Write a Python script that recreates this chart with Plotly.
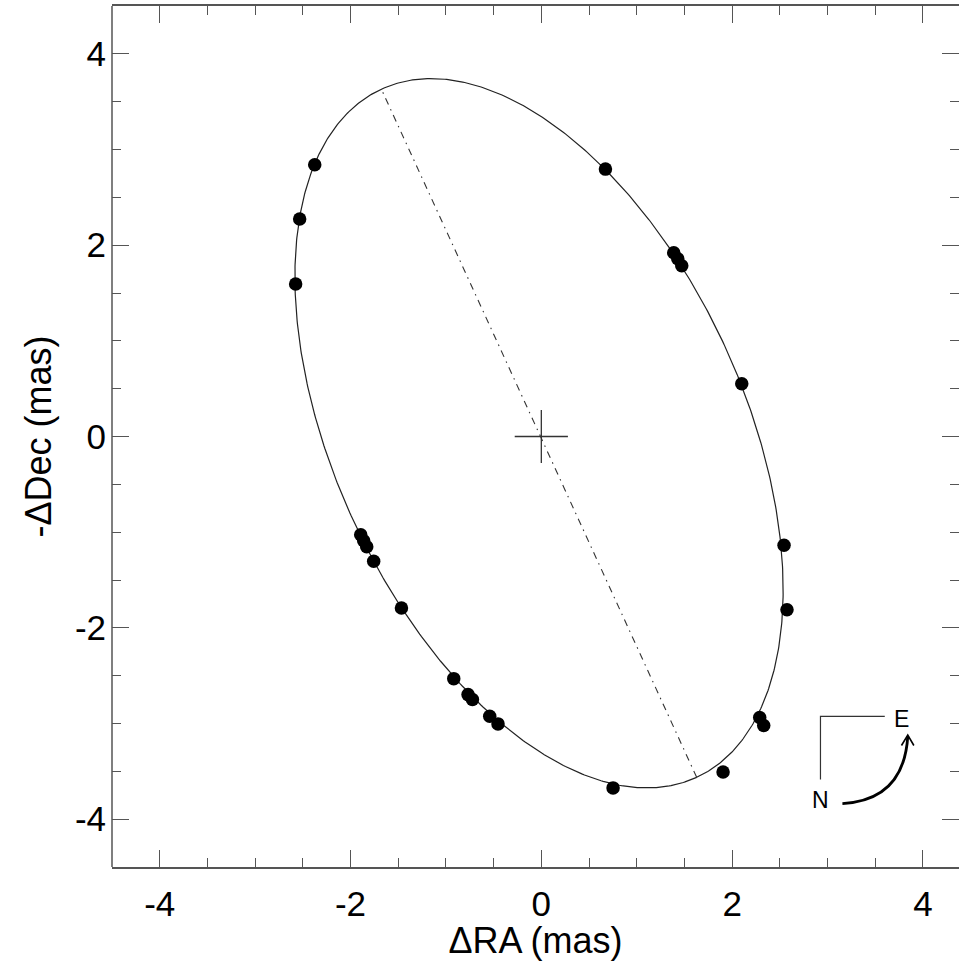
import numpy as np
import plotly.graph_objects as go

# Observed relative positions (mas)
d_ra = [-2.375, -2.533, -2.575, 0.672, 1.388, 1.430, 1.472, 2.101, 2.544, 2.575,
        2.289, 2.331, 1.905, 0.752, -0.454, -0.541, -0.722, -0.768, -0.918, -1.466,
        -1.757, -1.830, -1.862, -1.893]
d_dec = [2.840, 2.273, 1.594, 2.795, 1.921, 1.858, 1.785, 0.552, -1.137, -1.810,
         -2.938, -3.022, -3.506, -3.673, -3.004, -2.925, -2.750, -2.698, -2.531, -1.792,
         -1.305, -1.152, -1.089, -1.026]

# Orbit model (apparent ellipse) parameters
ell_center = (-0.024, 0.034)
ell_a = 3.958
ell_b = 2.15
ell_major_dir = (0.4175, -0.9087)

tick_vals = [-4, -2, 0, 2, 4]
tick_text = ["-4", "-2", "0", "2", "4"]

FONT = "Liberation Sans, Arial, Helvetica, sans-serif"

theta = np.linspace(0, 2 * np.pi, 721)
ux, uy = ell_major_dir
vx, vy = -uy, ux
ex = ell_center[0] + ell_a * np.cos(theta) * ux + ell_b * np.sin(theta) * vx
ey = ell_center[1] + ell_a * np.cos(theta) * uy + ell_b * np.sin(theta) * vy

apx = [ell_center[0] + ell_a * ux, ell_center[0] - ell_a * ux]
apy = [ell_center[1] + ell_a * uy, ell_center[1] - ell_a * uy]

fig = go.Figure()
fig.add_trace(go.Scatter(x=ex, y=ey, mode="lines",
                         line=dict(color="#222222", width=1.2), hoverinfo="skip"))
fig.add_trace(go.Scatter(x=apx, y=apy, mode="lines",
                         line=dict(color="#333333", width=1.1, dash="7px,5px,1.5px,5px"),
                         hoverinfo="skip"))
fig.add_trace(go.Scatter(x=[0], y=[0], mode="markers",
                         marker=dict(symbol="cross-thin", size=38,
                                     line=dict(color="#333333", width=1.3))))
fig.add_trace(go.Scatter(x=d_ra, y=d_dec, mode="markers",
                         marker=dict(color="black", size=13.5, line=dict(width=0))))

# Compass (N / E) with curved arrow
fig.add_shape(type="path", path="M 3.600,-2.925 L 2.926,-2.925 L 2.926,-3.586",
              line=dict(color="#333333", width=1.2))
fig.add_shape(type="path", path="M 3.156,-3.837 Q 3.80,-3.80 3.841,-3.135",
              line=dict(color="black", width=2.8))
fig.add_shape(type="path", path="M 3.775,-3.230 L 3.841,-3.120 L 3.905,-3.230",
              line=dict(color="black", width=1.6))
fig.add_annotation(x=3.775, y=-2.949, text="E", showarrow=False,
                   font=dict(family=FONT, size=23, color="black"))
fig.add_annotation(x=2.926, y=-3.795, text="N", showarrow=False,
                   font=dict(family=FONT, size=23, color="black"))

# left spine (right spine lies outside the visible window in the original)
fig.add_shape(type="line", xref="paper", yref="paper", x0=0, x1=0, y0=0, y1=1,
              line=dict(color="#555555", width=1.5), layer="above")

axis_common = dict(
    showgrid=False, zeroline=False, linecolor="#555555", linewidth=1.5,
    mirror="ticks", ticks="inside", ticklen=17, tickwidth=1.3, tickcolor="#555555",
    tickvals=tick_vals, ticktext=tick_text, ticklabelstandoff=5,
    tickfont=dict(family=FONT, size=35, color="black"),
    minor=dict(ticks="inside", ticklen=9, tickwidth=1.2, tickcolor="#555555", dtick=0.5,
               tick0=0, showgrid=False),
)

fig.update_xaxes(**axis_common, showline=True, range=[-4.5, 4.378],
                 title=dict(text="ΔRA (mas)", standoff=0,
                            font=dict(family=FONT, size=36, color="black")))
fig.update_yaxes(**axis_common, showline=False, range=[-4.5, 4.5],
                 title=dict(text="-ΔDec (mas)", standoff=12,
                            font=dict(family=FONT, size=36, color="black")))

fig.update_layout(width=959, height=961, showlegend=False,
                  plot_bgcolor="white", paper_bgcolor="white",
                  margin=dict(l=112, r=0, t=6, b=94))

fig.write_html("out.html", config={"displayModeBar": False},
               post_script="document.body.style.margin='0';document.body.style.overflow='hidden';")
